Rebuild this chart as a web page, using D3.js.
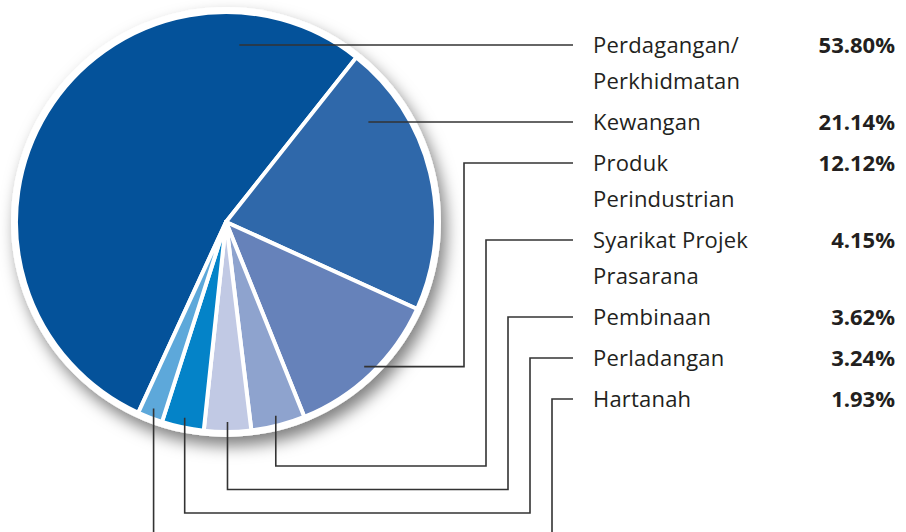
<!DOCTYPE html>
<html>
<head>
<meta charset="utf-8">
<script src="https://cdn.jsdelivr.net/npm/d3@7"></script>
<style>
  body { margin: 0; background: #fff; }
  svg { display: block; }
</style>
</head>
<body>
<svg id="chart" width="906" height="532"></svg>
<script>
// Sector shares (percent), clockwise order as drawn
const sectors = ["Perdagangan/\nPerkhidmatan", "Kewangan", "Produk\nPerindustrian",
  "Syarikat Projek\nPrasarana", "Pembinaan", "Perladangan", "Hartanah"];
const shares = [53.80, 21.14, 12.12, 4.15, 3.62, 3.24, 1.93];
const shareLabels = ["53.80%", "21.14%", "12.12%", "4.15%", "3.62%", "3.24%", "1.93%"];
const colours = ["#04529a", "#2f68aa", "#6682ba", "#8ea3ce", "#c1c9e4", "#0483c8", "#5da8da"];

const width = 906, height = 532;
const cx = 226, cy = 222;
const radius = 210;
const startDeg = 204.7;

const svg = d3.select('#chart');

// shadow under the pie
const defs = svg.append('defs');
const f = defs.append('filter').attr('id', 'shadow')
  .attr('x', '-20%').attr('y', '-20%').attr('width', '150%').attr('height', '150%');
f.append('feDropShadow')
  .attr('dx', 5).attr('dy', 9).attr('stdDeviation', 8)
  .attr('flood-color', '#000').attr('flood-opacity', 0.5);

const pieG = svg.append('g').attr('transform', `translate(${cx},${cy})`);

pieG.append('circle')
  .attr('r', radius + 5)
  .attr('fill', '#fff')
  .attr('filter', 'url(#shadow)');

const pie = d3.pie().sort(null).value(d => d)
  .startAngle(startDeg * Math.PI / 180)
  .endAngle(startDeg * Math.PI / 180 + 2 * Math.PI);
const arcs = pie(shares);

const arc = d3.arc().innerRadius(0).outerRadius(radius);

pieG.selectAll('path.slice').data(arcs)
  .enter().append('path')
  .attr('class', 'slice')
  .attr('d', arc)
  .attr('fill', (d, i) => colours[i])
  .attr('stroke', '#fff')
  .attr('stroke-width', 4)
  .attr('stroke-linejoin', 'round');

// legend rows
const textX = 593, dashEnd = 573, pctX = 895;
const lineHeight = 36, rowGap = 41;
let rowY = [];
let yy = 45;
sectors.forEach(s => {
  rowY.push(yy);
  yy += (s.split('\n').length - 1) * lineHeight + rowGap;
});

const legend = svg.append('g')
  .attr('font-family', '"Open Sans", "Noto Sans", sans-serif')
  .attr('font-size', 22)
  .attr('fill', '#231f20');

sectors.forEach((s, i) => {
  const t = legend.append('text').attr('x', textX).attr('y', rowY[i] + 8)
    .attr('letter-spacing', 0.2);
  s.split('\n').forEach((ln, j) => {
    t.append('tspan').attr('x', textX).attr('dy', j === 0 ? 0 : lineHeight).text(ln);
  });
  legend.append('text')
    .attr('x', pctX).attr('y', rowY[i] + 8)
    .attr('text-anchor', 'end')
    .attr('font-weight', 'bold')
    .text(shareLabels[i]);
});

// leader lines
const leaderR = 200;
const elbow0 = 464, elbowStep = 22;
const drop0 = 466, dropStep = 23.5;
const pt = (a, r) => [cx + r * Math.sin(a), cy - r * Math.cos(a)];

const leaders = arcs.map((d, i) => {
  const y = rowY[i];
  if (i < 2) {
    // straight across on the label row
    const r = i === 0 ? 177.5 : 174;
    const x0 = cx + Math.sqrt(r * r - (y - cy) * (y - cy));
    return [[x0, y], [dashEnd, y]];
  }
  const mid = (d.startAngle + d.endAngle) / 2;
  const p = pt(mid, leaderR);
  const ex = elbow0 + (i - 2) * elbowStep;
  if (i === 2) {
    return [p, [ex, p[1]], [ex, y], [dashEnd, y]];
  }
  const dy = drop0 + (i - 3) * dropStep;
  return [p, [p[0], dy], [ex, dy], [ex, y], [dashEnd, y]];
});

svg.append('g').selectAll('path').data(leaders)
  .enter().append('path')
  .attr('d', d3.line())
  .attr('fill', 'none')
  .attr('stroke', '#333')
  .attr('stroke-width', 1.6);
</script>
</body>
</html>
